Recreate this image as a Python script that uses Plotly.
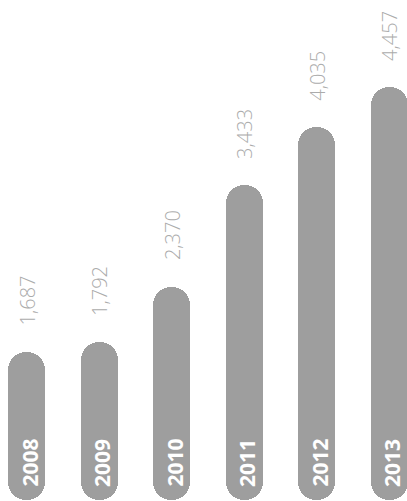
import plotly.graph_objects as go

# Annual figures shown as rounded "pill" columns
years = ["2008", "2009", "2010", "2011", "2012", "2013"]
values = [1687, 1792, 2370, 3433, 4035, 4457]
value_labels = ["1,687", "1,792", "2,370", "3,433", "4,035", "4,457"]

BAR_COLOR = "#9e9e9e"
LABEL_COLOR = "#ababab"
FLOOR = 140        # value at which the rounded bottom ends
UPPER_BASE = 500   # upper piece starts here ...
LOWER_TOP = 1200   # ... and the lower piece reaches up to here, so they overlap
BAR_WIDTH = 0.51

xs = list(range(len(years)))

fig = go.Figure()

# lower piece: rounded bottom
fig.add_trace(go.Bar(
    x=xs, y=[FLOOR - LOWER_TOP] * len(values), base=[LOWER_TOP] * len(values),
    width=BAR_WIDTH, marker=dict(color=BAR_COLOR, cornerradius="50%", line=dict(width=0)),
    hoverinfo="skip", showlegend=False,
))
# upper piece: rounded top, reaching the value
fig.add_trace(go.Bar(
    x=xs, y=[v - UPPER_BASE for v in values], base=[UPPER_BASE] * len(values),
    width=BAR_WIDTH, marker=dict(color=BAR_COLOR, cornerradius="50%", line=dict(width=0)),
    hoverinfo="skip", showlegend=False,
))

annotations = []
for i, (yr, v, lab) in enumerate(zip(years, values, value_labels)):
    # value above the column
    annotations.append(dict(
        x=i, y=v, xref="x", yref="y", text=lab, textangle=-90,
        showarrow=False, xanchor="center", yanchor="bottom", yshift=24, xshift=1,
        font=dict(family="Open Sans", size=20, color=LABEL_COLOR, weight=300),
    ))
    # year inside the base of the column
    annotations.append(dict(
        x=i, y=FLOOR, xref="x", yref="y", text=yr, textangle=-90,
        showarrow=False, xanchor="center", yanchor="bottom", yshift=11, xshift=3,
        font=dict(family="Open Sans", size=21, color="#ffffff", weight=700),
    ))

fig.update_layout(
    width=407, height=501,
    margin=dict(l=0, r=0, t=0, b=0),
    paper_bgcolor="white", plot_bgcolor="white",
    barmode="overlay", bargap=0,
    xaxis=dict(range=[-0.366, 5.248], visible=False, fixedrange=True),
    yaxis=dict(range=[129.6, 5364.6], visible=False, fixedrange=True),
    annotations=annotations,
)

fig.write_html("out.html")
